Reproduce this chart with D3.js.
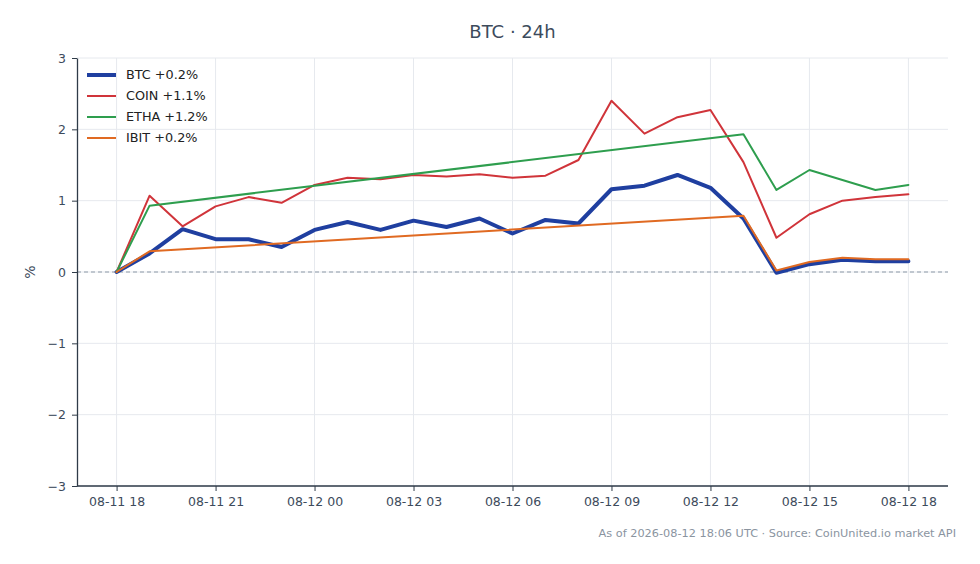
<!DOCTYPE html>
<html>
<head>
<meta charset="utf-8">
<title>BTC 24h</title>
<script src="https://d3js.org/d3.v7.min.js"></script>
<style>
  body { margin: 0; background: #fff; }
  svg { display: block; font-family: "DejaVu Sans", sans-serif; }
</style>
</head>
<body>
<div id="chart"></div>
<script>
// hourly points, 08-11 18:00 -> 08-12 18:00 UTC
const hours = d3.range(25);
const tickHours = [0, 3, 6, 9, 12, 15, 18, 21, 24];
const tickLabels = ["08-11 18", "08-11 21", "08-12 00", "08-12 03", "08-12 06",
                    "08-12 09", "08-12 12", "08-12 15", "08-12 18"];
const yTicks = [-3, -2, -1, 0, 1, 2, 3];

// % change from start; null = no print that hour
const btc  = [0, 0.26, 0.60, 0.46, 0.46, 0.35, 0.59, 0.70, 0.59, 0.72, 0.63, 0.75, 0.54,
              0.73, 0.68, 1.16, 1.21, 1.36, 1.18, 0.75, -0.01, 0.11, 0.17, 0.15, 0.15];
const coin = [0, 1.07, 0.64, 0.92, 1.05, 0.97, 1.22, 1.32, 1.30, 1.36, 1.34, 1.37, 1.32,
              1.35, 1.57, 2.40, 1.94, 2.17, 2.27, 1.54, 0.48, 0.81, 1.00, 1.05, 1.09];
const etha = [0, 0.93, null, null, null, null, null, null, null, null, null, null, null,
              null, null, null, null, null, null, 1.93, 1.15, 1.43, 1.29, 1.15, 1.22];
const ibit = [0, 0.29, null, null, null, null, null, null, null, null, null, null, null,
              null, null, null, null, null, null, 0.79, 0.02, 0.14, 0.20, 0.18, 0.18];

const seriesNames = ["BTC +0.2%", "COIN +1.1%", "ETHA +1.2%", "IBIT +0.2%"];
const seriesColors = ["#1f3fa0", "#d0343a", "#2e9e4e", "#e06a22"];
const seriesWidths = [4, 2, 2, 2];
const seriesData = [btc, coin, etha, ibit];

const width = 980, height = 564;
const margin = { top: 58, right: 32, bottom: 78, left: 77 };

const svg = d3.select("#chart").append("svg")
    .attr("width", width)
    .attr("height", height);

// matplotlib-like 5% padding on x
const x = d3.scaleLinear()
    .domain([-1.2, 25.2])
    .range([margin.left, width - margin.right]);
const y = d3.scaleLinear()
    .domain([-3, 3])
    .range([height - margin.bottom, margin.top]);

const axisColor = "#2f3b48";
const textColor = "#3d4b5c";

// grid
svg.append("g")
    .selectAll("line.vg")
    .data(tickHours)
    .join("line")
    .attr("x1", d => x(d)).attr("x2", d => x(d))
    .attr("y1", y(-3)).attr("y2", y(3))
    .attr("stroke", "#e6e9ee").attr("stroke-width", 1);
svg.append("g")
    .selectAll("line.hg")
    .data(yTicks)
    .join("line")
    .attr("x1", x.range()[0]).attr("x2", x.range()[1])
    .attr("y1", d => y(d)).attr("y2", d => y(d))
    .attr("stroke", "#e6e9ee").attr("stroke-width", 1);

// zero reference
svg.append("line")
    .attr("x1", x.range()[0]).attr("x2", x.range()[1])
    .attr("y1", y(0)).attr("y2", y(0))
    .attr("stroke", "#8d99a8")
    .attr("stroke-width", 1.1)
    .attr("stroke-dasharray", "4,3");

// lines
const line = d3.line()
    .x(d => x(d.h))
    .y(d => y(d.v));

seriesData.forEach((vals, i) => {
    const pts = hours.map(h => ({ h: h, v: vals[h] })).filter(d => d.v !== null);
    svg.append("path")
        .datum(pts)
        .attr("fill", "none")
        .attr("stroke", seriesColors[i])
        .attr("stroke-width", seriesWidths[i])
        .attr("stroke-linejoin", "round")
        .attr("stroke-linecap", "round")
        .attr("d", line);
});

// axes
const xAxis = svg.append("g")
    .attr("transform", `translate(0,${height - margin.bottom})`)
    .call(d3.axisBottom(x)
        .tickValues(tickHours)
        .tickFormat((d, i) => tickLabels[i])
        .tickSize(5)
        .tickPadding(6)
        .tickSizeOuter(0));
const yAxis = svg.append("g")
    .attr("transform", `translate(${margin.left},0)`)
    .call(d3.axisLeft(y)
        .tickValues(yTicks)
        .tickFormat(d => d < 0 ? "\u2212" + Math.abs(d) : d)
        .tickSize(5)
        .tickPadding(6)
        .tickSizeOuter(0));

[xAxis, yAxis].forEach(g => {
    g.select(".domain").attr("stroke", axisColor).attr("stroke-width", 1.3);
    g.selectAll(".tick line").attr("stroke", axisColor);
    g.selectAll(".tick text")
        .attr("fill", textColor)
        .style("font-size", "12.5px")
        .style("font-family", "DejaVu Sans");
});
xAxis.select(".domain").attr("d", `M${x.range()[0]},0H${x.range()[1]}`);

// y label
svg.append("text")
    .attr("transform", `translate(35,${y(0)}) rotate(-90)`)
    .attr("text-anchor", "middle")
    .attr("fill", textColor)
    .style("font-size", "14px")
    .text("%");

// title
svg.append("text")
    .attr("x", (x.range()[0] + x.range()[1]) / 2)
    .attr("y", 38)
    .attr("text-anchor", "middle")
    .attr("fill", textColor)
    .style("font-size", "18px")
    .text("BTC \u00b7 24h");

// legend
const legend = svg.append("g").attr("transform", "translate(87,75)");
seriesNames.forEach((name, i) => {
    const row = legend.append("g").attr("transform", `translate(0,${i * 21})`);
    row.append("line")
        .attr("x1", 0).attr("x2", 29)
        .attr("stroke", seriesColors[i])
        .attr("stroke-width", seriesWidths[i]);
    row.append("text")
        .attr("x", 39).attr("y", 0)
        .attr("dy", "0.35em")
        .attr("fill", "#222")
        .style("font-size", "12.8px")
        .text(name);
});

// footnote
svg.append("text")
    .attr("x", 956)
    .attr("y", 537)
    .attr("text-anchor", "end")
    .attr("fill", "#8a949f")
    .style("font-size", "11.3px")
    .text("As of 2026-08-12 18:06 UTC \u00b7 Source: CoinUnited.io market API");
</script>
</body>
</html>
